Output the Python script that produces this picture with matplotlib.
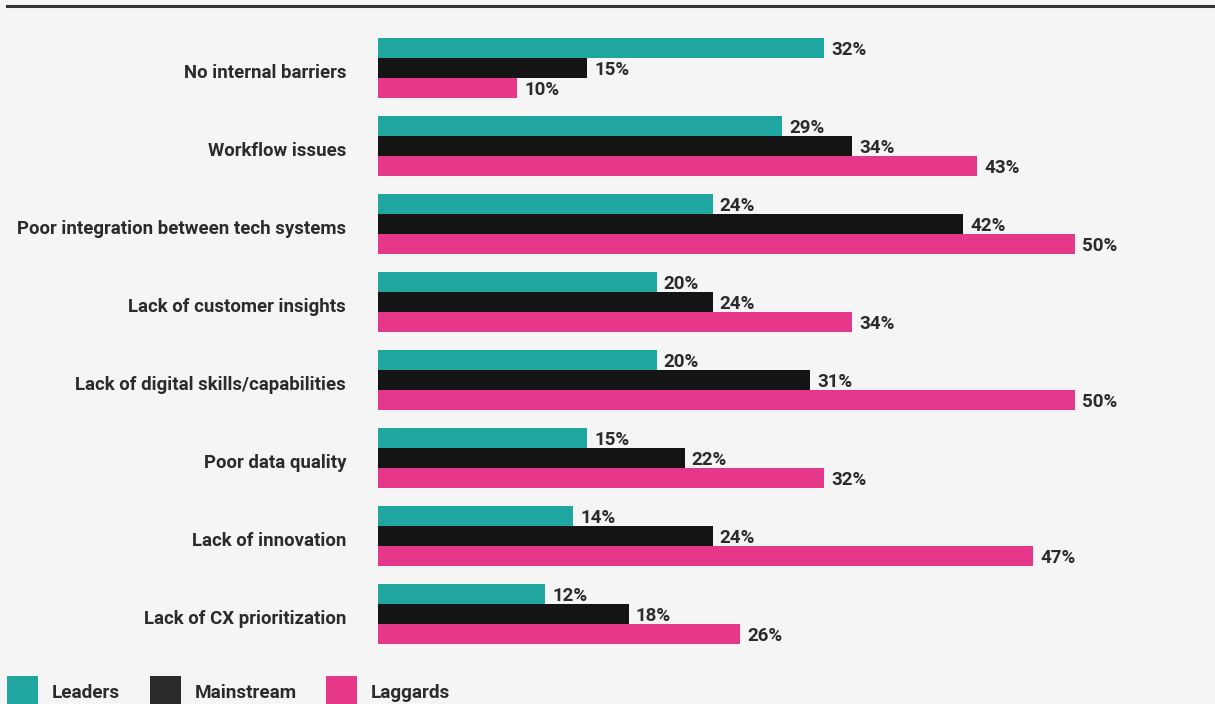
import numpy as np
import matplotlib
matplotlib.use('Agg')
import matplotlib.pyplot as plt
import matplotlib.transforms as mtransforms
from matplotlib.patches import Rectangle
from matplotlib.lines import Line2D

plt.rcParams['font.family'] = ['Roboto', 'DejaVu Sans']
plt.rcParams['font.weight'] = 'bold'

categories = ['No internal barriers', 'Workflow issues', 'Poor integration between tech systems',
              'Lack of customer insights', 'Lack of digital skills/capabilities', 'Poor data quality',
              'Lack of innovation', 'Lack of CX prioritization']
leaders = [32, 29, 24, 20, 20, 15, 14, 12]
mainstream = [15, 34, 42, 24, 31, 22, 24, 18]
laggards = [10, 43, 50, 34, 50, 32, 47, 26]
series_names = ['Leaders', 'Mainstream', 'Laggards']
colors = ['#20a6a1', '#141414', '#e6388a']
legend_colors = ['#20a6a1', '#2b2b2b', '#e6388a']

W, H = 1215, 704
bg = '#f5f5f5'
txt = '#2b2b2b'

fig = plt.figure(figsize=(W / 100, H / 100), dpi=100, facecolor=bg)
left = 378 / W
ax = fig.add_axes([left, 0, 1 - left, 1])
ax.set_facecolor(bg)

# 78 px per group, 20 px per bar, group centre at 68 px from top
pitch = 78.0
bh = 20 / pitch
y = np.arange(len(categories))
down1 = mtransforms.ScaledTranslation(0, -1.5 / 72, fig.dpi_scale_trans)
for k, vals in enumerate([leaders, mainstream, laggards]):
    pos = y + (k - 1) * bh
    ax.barh(pos, vals, height=bh, color=colors[k], linewidth=0)
    for p, v in zip(pos, vals):
        ax.text(v + 0.5, p, f'{v}%', va='center', ha='left', fontsize=13.5,
                fontweight='bold', color=txt, transform=ax.transData + down1)

ax.set_xlim(0, (W - 378) / 13.94)
ax.set_ylim((H - 68) / pitch, -68 / pitch)
ax.set_yticks(y)
ax.set_yticklabels(categories, fontsize=13.4, fontweight='bold', color=txt)
ax.tick_params(axis='y', length=0, pad=23)
down3 = mtransforms.ScaledTranslation(0, -2.5 / 72, fig.dpi_scale_trans)
for lab in ax.get_yticklabels():
    lab.set_transform(lab.get_transform() + down3)
ax.set_xticks([])
for s in ax.spines.values():
    s.set_visible(False)

# top rule
fig.add_artist(Line2D([7 / W, 1], [1 - 6 / H, 1 - 6 / H], color='#333333', lw=2.2,
                      transform=fig.transFigure))

# legend
lx = [7, 150, 326]
for name, c, x0 in zip(series_names, legend_colors, lx):
    fig.add_artist(Rectangle((x0 / W, 0), 31 / W, 28 / H, color=c,
                             transform=fig.transFigure, linewidth=0))
    fig.text((x0 + 45) / W, 11 / H, name, fontsize=13.6, fontweight='bold', color=txt,
             va='center', ha='left')

fig.savefig('out.png', dpi=100, facecolor=bg)
